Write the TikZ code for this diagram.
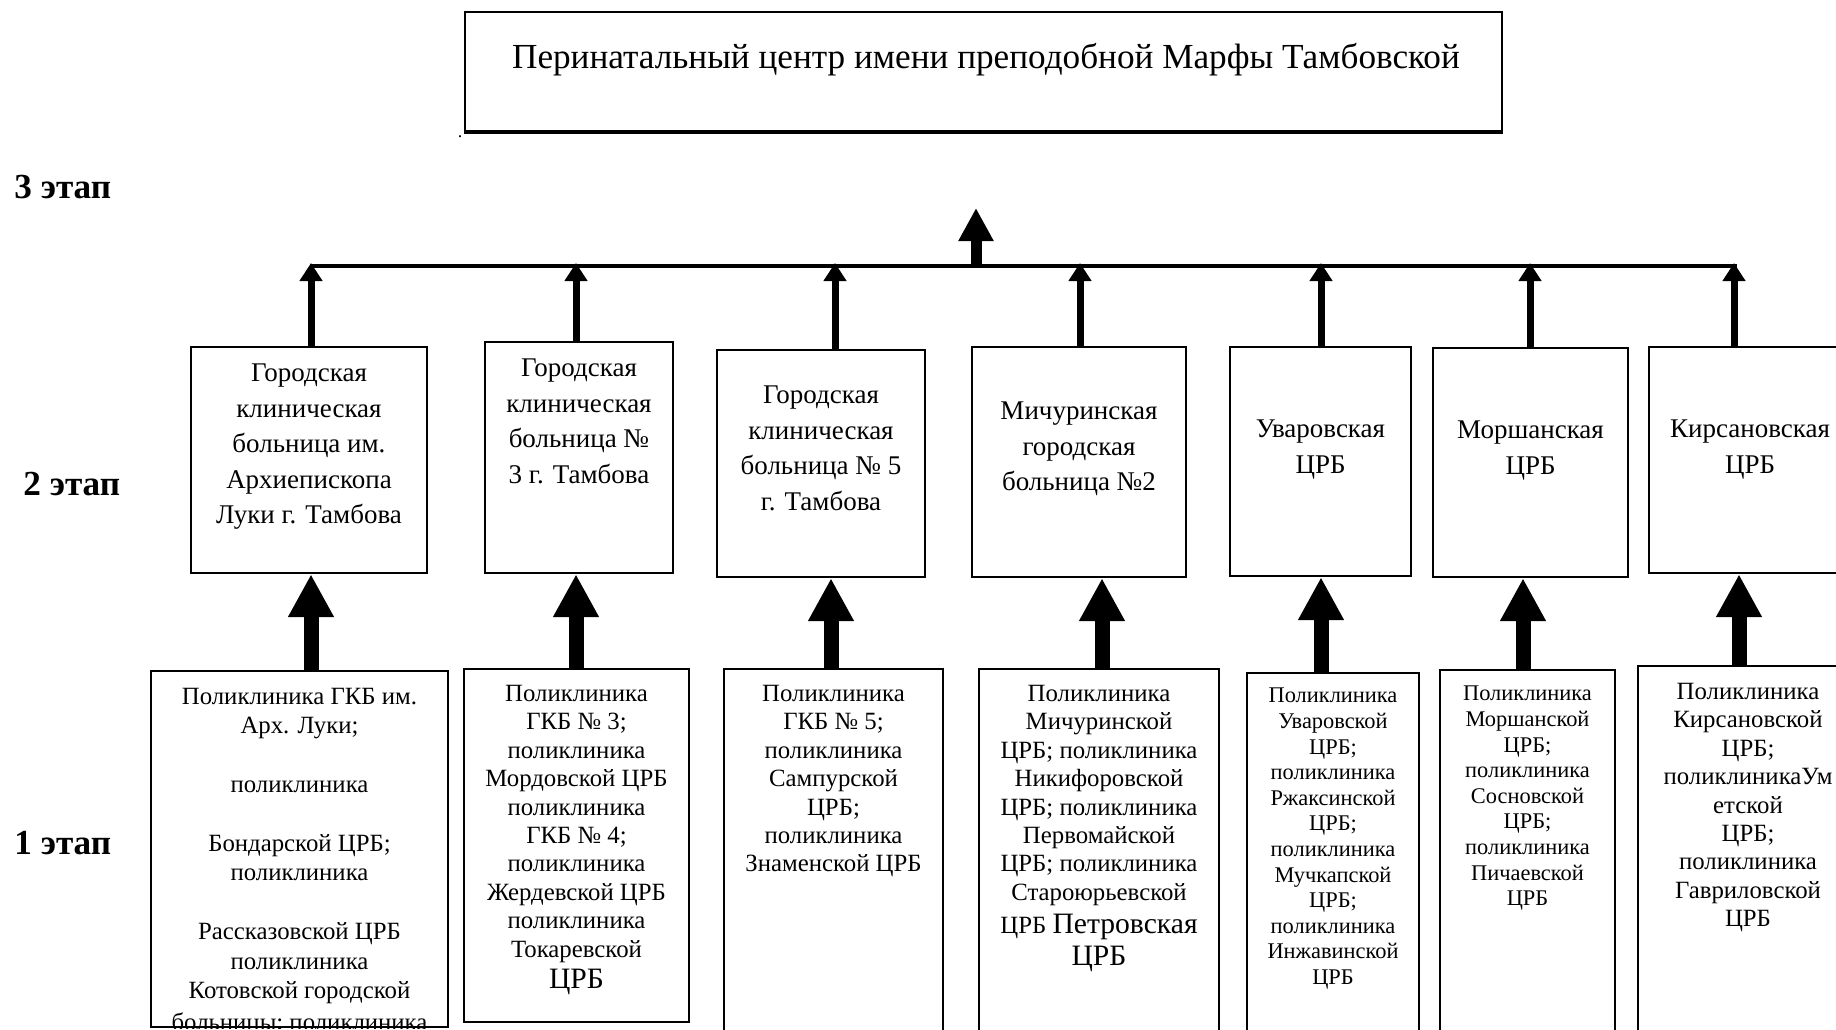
\documentclass[tikz,border=0pt]{standalone}
\usepackage{fontspec}
\setmainfont{Liberation Serif}
\usetikzlibrary{arrows.meta, positioning, fit}

\newcommand{\bigsz}{\fontsize{14.8}{16.4}\selectfont}

\tikzset{
  box/.style={draw, line width=1.2pt, inner sep=0pt},
  stage/.style={font=\fontsize{17.6}{20}\selectfont\bfseries, anchor=base west, inner sep=0pt},
  midtxt/.style={font=\fontsize{13.5}{17.75}\selectfont, align=center, anchor=north, inner sep=0pt},
  lowtxt/.style={font=\fontsize{12.4}{14.2}\selectfont, align=center, anchor=north, inner sep=0pt},
  smalltxt/.style={lowtxt, font=\fontsize{11.2}{12.8}\selectfont},
  bus/.style={line width=2pt},
  thin up/.style={line width=3.5pt, -{Triangle[length=9pt,width=11pt]}},
  mid up/.style={line width=5.5pt, -{Triangle[length=16.5pt,width=16.5pt]}},
  thick up/.style={line width=7.5pt, -{Triangle[length=21.5pt,width=21.5pt]}},
}

\begin{document}
\begin{tikzpicture}[x=0.5pt, y=-0.5pt]
  \clip (0,0) rectangle (1836,1029);

  % perinatal centre
  \node[box, fit={(465,12) (1502,131)}] (pc) {};
  \draw[line width=1.6pt] (pc.south west) -- (pc.south east);
  \node[font=\fontsize{17.6}{20}\selectfont, anchor=base, inner sep=0pt] (pct) at (986,68)
    {Перинатальный центр имени преподобной Марфы Тамбовской};
  \node[font=\fontsize{9}{9}\selectfont, anchor=base, inner sep=0pt] (dot) at (460,137) {.};

  % stages
  \node[stage] (s3) at (14,198) {3 этап};
  \node[stage] (s2) at (23,495) {2 этап};
  \node[stage] (s1) at (14,854) {1 этап};

  % level 2
  \node[box, fit={(191,347) (427,573)}] (h1) {};
  \node[box, fit={(485,342) (673,573)}] (h2) {};
  \node[box, fit={(717,350) (925,577)}] (h3) {};
  \node[box, fit={(972,347) (1186,577)}] (h4) {};
  \node[box, fit={(1230,347) (1411,576)}] (h5) {};
  \node[box, fit={(1433,348) (1628,577)}] (h6) {};
  \node[box, fit={(1649,347) (1851,573)}] (h7) {};

  \node[midtxt, below=9pt of h1.north] (h1t) {Городская\\клиническая\\больница им.\\Архиепископа\\Луки г. Тамбова};
  \node[midtxt, below=9pt of h2.north] (h2t) {Городская\\клиническая\\больница №\\3 г. Тамбова};
  \node[midtxt, below=18.5pt of h3.north] (h3t) {Городская\\клиническая\\больница № 5\\г. Тамбова};
  \node[midtxt, below=28pt of h4.north] (h4t) {Мичуринская\\городская\\больница №2};
  \node[midtxt, below=37pt of h5.north] (h5t) {Уваровская\\ЦРБ};
  \node[midtxt, below=37pt of h6.north] (h6t) {Моршанская\\ЦРБ};
  \node[midtxt, below=37pt of h7.north] (h7t) {Кирсановская\\ЦРБ};

  % level 1
  \node[box, fit={(151,671) (448,1027)}] (l1) {};
  \node[box, fit={(464,669) (689,1022)}] (l2) {};
  \node[box, fit={(724,669) (943,1045)}] (l3) {};
  \node[box, fit={(979,669) (1219,1045)}] (l4) {};
  \node[box, fit={(1247,673) (1419,1045)}] (l5) {};
  \node[box, fit={(1440,670) (1615,1045)}] (l6) {};
  \node[box, fit={(1638,666) (1858,1045)}] (l7) {};

  \begin{scope}
    \clip (l1.north west) rectangle (l1.south east);
    \node[lowtxt, font=\fontsize{12.4}{14.7}\selectfont, below=9pt of l1.north] (l1t) {Поликлиника ГКБ им.\\Арх. Луки;\\[14.7pt]поликлиника\\[14.7pt]Бондарской ЦРБ;\\поликлиника\\[14.7pt]Рассказовской ЦРБ\\поликлиника\\Котовской городской\\[1.5pt]больницы; поликлиника};
  \end{scope}
  \node[lowtxt, below=8.5pt of l2.north] (l2t) {Поликлиника\\ГКБ № 3;\\поликлиника\\Мордовской ЦРБ\\поликлиника\\ГКБ № 4;\\поликлиника\\Жердевской ЦРБ\\поликлиника\\Токаревской\\[1.6pt]{\bigsz ЦРБ}};
  \node[lowtxt, below=8.5pt of l3.north] (l3t) {Поликлиника\\ГКБ № 5;\\поликлиника\\Сампурской\\ЦРБ;\\поликлиника\\Знаменской ЦРБ};
  \node[lowtxt, below=8.5pt of l4.north] (l4t) {Поликлиника\\Мичуринской\\ЦРБ; поликлиника\\Никифоровской\\ЦРБ; поликлиника\\Первомайской\\ЦРБ; поликлиника\\Староюрьевской\\[2.2pt]ЦРБ {\bigsz Петровская}\\[2.2pt]{\bigsz ЦРБ}};
  \node[smalltxt, below=8pt of l5.north] (l5t) {Поликлиника\\Уваровской\\ЦРБ;\\поликлиника\\Ржаксинской\\ЦРБ;\\поликлиника\\Мучкапской\\ЦРБ;\\поликлиника\\Инжавинской\\ЦРБ};
  \node[smalltxt, below=8.5pt of l6.north] (l6t) {Поликлиника\\Моршанской\\ЦРБ;\\поликлиника\\Сосновской\\ЦРБ;\\поликлиника\\Пичаевской\\ЦРБ};
  \node[lowtxt, below=9pt of l7.north] (l7t) {Поликлиника\\Кирсановской\\ЦРБ;\\поликлиникаУм\\етской\\ЦРБ;\\поликлиника\\Гавриловской\\ЦРБ};

  % bus and arrows
  \coordinate (busl) at (310,266);
  \coordinate (busr) at (1737,266);
  \coordinate (up) at (976,208);
  \draw[bus] (busl) -- (busr);
  \draw[mid up] (up |- busl) -- (up);

  \foreach \i/\x in {1/311, 2/576, 3/835, 4/1080, 5/1321, 6/1530, 7/1734} {
    \coordinate (u\i) at (\x,263);
    \draw[thin up] (u\i |- h\i.north) -- (u\i);
  }
  \foreach \i/\x in {1/311, 2/576, 3/831, 4/1102, 5/1321, 6/1523, 7/1739} {
    \coordinate (d\i) at (\x,0);
    \draw[thick up] (d\i |- l\i.north) -- (d\i |- h\i.south);
  }
\end{tikzpicture}
\end{document}
